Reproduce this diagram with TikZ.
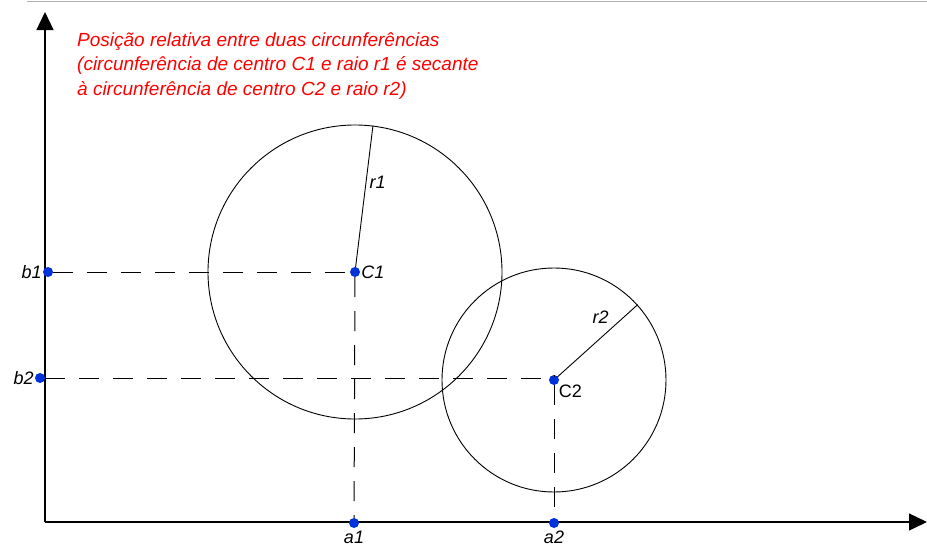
\documentclass[tikz,border=0pt]{standalone}
\usepackage{fontspec}
\setmainfont{Liberation Sans}
\usetikzlibrary{arrows.meta}
\definecolor{azulpto}{RGB}{0,50,220}

\begin{document}
\begin{tikzpicture}[x=1pt,y=-1pt]
	\tikzstyle{pto} = [circle, minimum width=10pt, fill=azulpto, inner sep=0pt];
	\tikzstyle{circ} = [circle, draw, line width=0.9pt, inner sep=0pt];
	\tikzstyle{tracejado} = [line width=1pt, dash pattern=on 20pt off 14pt];
	\tikzstyle{eixo} = [line width=1.3pt, -{Triangle[length=18pt,width=17pt]}];
	\tikzset{every label/.style={font=\fontsize{18}{20}\selectfont\itshape, inner sep=1pt}};
	\useasboundingbox (0,0) rectangle (927,554);
	
	\draw[gray!60, line width=0.8pt] (27,1) -- (927,1);
	
	% eixos
	\coordinate (O) at (45,522);
	\coordinate (Ytop) at (45,12);
	\coordinate (Xend) at (927,522);
	\draw[eixo] (O) -- (Ytop);
	\draw[eixo] (O) -- (Xend);
	
	% circunferencias
	\node[circ, minimum size=294pt] (k1) at (355,272) {};
	\node[circ, minimum size=224pt] (k2) at (554,380) {};
	
	% raios
	\draw[line width=0.9pt] (k1.center) -- (k1.83.4) node[pos=0.61, right, font=\fontsize{18}{20}\selectfont\itshape] {r1};
	\draw[line width=0.9pt] (k2.center) -- (k2.42.5) node[pos=0.7, above left, font=\fontsize{18}{20}\selectfont\itshape] {r2};
	
	% pontos
	\node[pto, label=right:C1] (C1) at (k1.center) {};
	\node[pto, label={[font=\fontsize{18}{20}\selectfont]below right:C2}] (C2) at (k2.center) {};
	\node[pto, label=left:b1] (b1) at (48,272) {};
	\node[pto, label=left:b2] (b2) at (40,378) {};
	\node[pto, label={[label distance=2pt]below:a1}] (a1) at (354,523) {};
	\node[pto, label={[label distance=2pt]below:a2}] (a2) at (554,523) {};
	
	\draw[tracejado] (b1) -- (C1);
	\draw[tracejado] (C1) -- (a1);
	\draw[tracejado] (b2) -- (b2 -| C2) -- (C2);
	\draw[tracejado] (C2) -- (a2);
	
	\node[anchor=north west, align=left, text=red, inner sep=0pt,
		font=\fontsize{19}{24.5}\selectfont\itshape] (titulo) at (77,32)
		{Posição relativa entre duas circunferências\\
		(circunferência de centro C1 e raio r1 é secante\\
		à circunferência de centro C2 e raio r2)};
\end{tikzpicture}
\end{document}
